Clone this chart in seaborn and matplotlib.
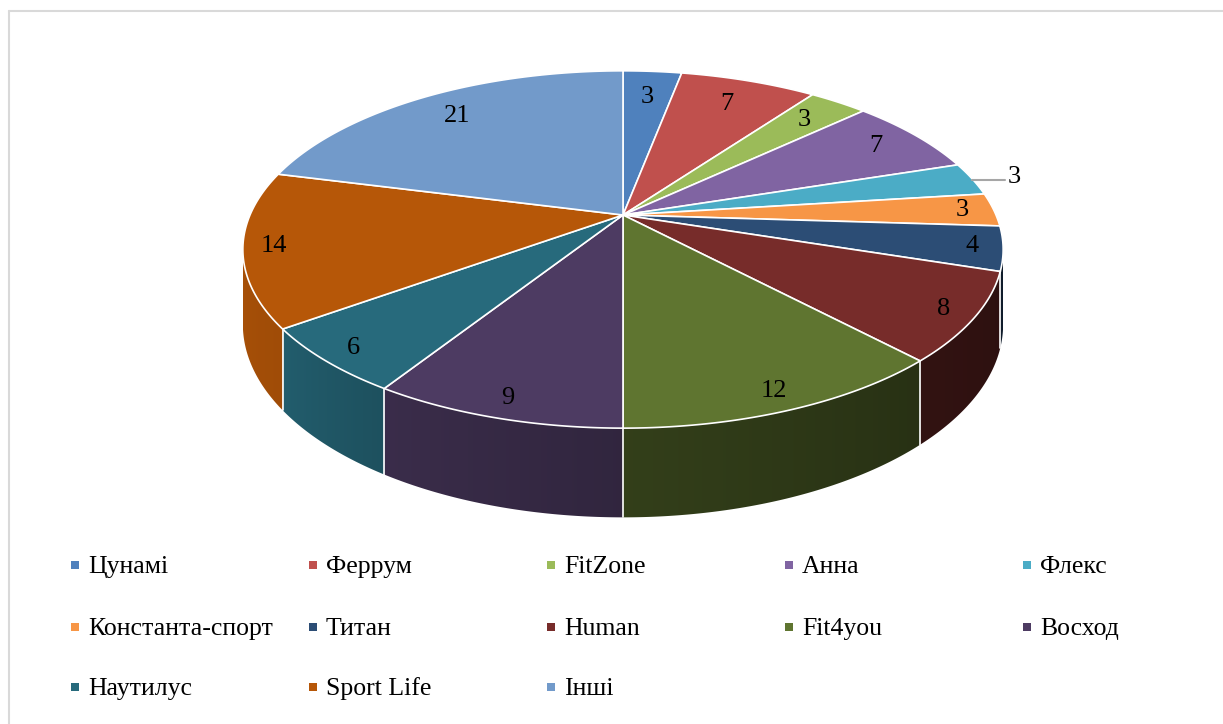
import numpy as np
import matplotlib
matplotlib.use("Agg")
import matplotlib.pyplot as plt
from matplotlib.patches import Polygon
import seaborn as sns

# slice data (clockwise from 12 o'clock)
labels = ["Цунамі", "Феррум", "FitZone", "Анна", "Флекс", "Константа-спорт",
          "Титан", "Human", "Fit4you", "Восход", "Наутилус", "Sport Life", "Інші"]
values = [3, 7, 3, 7, 3, 3, 4, 8, 12, 9, 6, 14, 21]
colors = ["#4F81BD", "#C0504D", "#9BBB59", "#8064A2", "#4BACC6", "#F79646",
          "#2C4D75", "#772C2A", "#5F7530", "#4D3B62", "#276A7C", "#B65708", "#729ACA"]
outside_label = "Флекс"

sns.set_theme(style="white")
plt.rcParams["font.family"] = ["Liberation Serif", "DejaVu Serif"]
plt.rcParams["text.color"] = "black"

# projection of the tilted disc (pixel space)
CX, CY = 623, 215
A, B, K = 172, 373, 0.193
DEPTH = 72


def project(phi, r=1.0):
    t = np.radians(phi)
    x = r * np.sin(t)
    y = r * np.cos(t)
    w = 1 + K * y
    return CX + B * x / w, CY - A * y / w


def depth(phi):
    return DEPTH / (1 + K * np.cos(np.radians(phi)))


fig = plt.figure(figsize=(12.23, 7.24), dpi=100)
ax = fig.add_axes([0, 0, 1, 1])
ax.set_xlim(0, 1223)
ax.set_ylim(724, 0)
ax.axis("off")

# chart frame
ax.plot([8.5, 1223], [10.5, 10.5], color="#D9D9D9", lw=1.5)
ax.plot([8.5, 8.5], [10.5, 724], color="#D9D9D9", lw=1.5)

total = sum(values)
bounds = 360 * np.concatenate([[0], np.cumsum(values)]) / total

# side walls (front part only), shaded with a horizontal gradient
phi_l = 90 + np.degrees(np.arcsin(K))
phi_r = 270 - np.degrees(np.arcsin(K))
fp = [phi_l, 137, 179.9, 180.1, 212, 234, phi_r]
ff = [0.37, 0.42, 0.54, 0.64, 0.76, 0.88, 0.92]
phi_tab = np.linspace(phi_l, phi_r, 2000)
x_tab = project(phi_tab)[0]  # decreasing in phi

for i in range(len(values)):
    lo = max(bounds[i], phi_l)
    hi = min(bounds[i + 1], phi_r)
    if lo >= hi:
        continue
    steps = np.linspace(lo, hi, 200)
    tx, ty = project(steps)
    by = ty + depth(steps)
    verts = np.column_stack([np.concatenate([tx, tx[::-1]]),
                             np.concatenate([ty, by[::-1]])])
    poly = Polygon(verts, closed=True, facecolor="none", edgecolor="none")
    ax.add_patch(poly)
    x0, x1 = tx.min(), tx.max()
    cols = np.linspace(x0, x1, 300)
    phis = np.interp(cols, x_tab[::-1], phi_tab[::-1])
    fac = np.interp(phis, fp, ff)
    rgb = np.array(matplotlib.colors.to_rgb(colors[i]))
    img = np.clip(fac[None, :, None] * rgb[None, None, :], 0, 1)
    im = ax.imshow(img, extent=[x0, x1, by.max() + 1, ty.min() - 1],
                   aspect="auto", interpolation="bilinear", zorder=2)
    im.set_clip_path(poly)

for b in bounds:
    if phi_l < b < phi_r:
        x0, y0 = project(b)
        ax.plot([x0, x0], [y0, y0 + depth(b)], color="white", lw=1.2, zorder=3)

ax.set_xlim(0, 1223)
ax.set_ylim(724, 0)

# top face
for i in range(len(values)):
    arc = np.linspace(bounds[i], bounds[i + 1], 120)
    xs, ys = project(arc)
    ax.fill(np.concatenate([[CX], xs]), np.concatenate([[CY], ys]),
            facecolor=colors[i], edgecolor="white", lw=1.2, zorder=4)

# data labels
for i, v in enumerate(values):
    mid = (bounds[i] + bounds[i + 1]) / 2
    if labels[i] == outside_label:
        ex, ey = project(mid)
        ax.plot([ex, ex + 33], [ey + 1, ey + 1], color="#A6A6A6", lw=1.5, zorder=5)
        ax.text(ex + 35, ey - 2, str(v), fontsize=19, ha="left", va="center", zorder=6)
        continue
    r = 0.92 - 0.13 * max(np.cos(np.radians(mid)), 0)
    lx, ly = project(mid, r)
    ax.text(lx, ly, str(v), fontsize=19, ha="center", va="center", zorder=6)

# legend
rows_y = [565, 627, 687]
for i, lab in enumerate(labels):
    x = 75 + 238 * (i % 5)
    y = rows_y[i // 5]
    ax.scatter([x], [y], marker="s", s=36, color=colors[i], linewidths=0, zorder=5)
    ax.text(x + 13, y + 8, lab, fontsize=18.5, ha="left", va="baseline")

fig.savefig("out.png", dpi=100)
